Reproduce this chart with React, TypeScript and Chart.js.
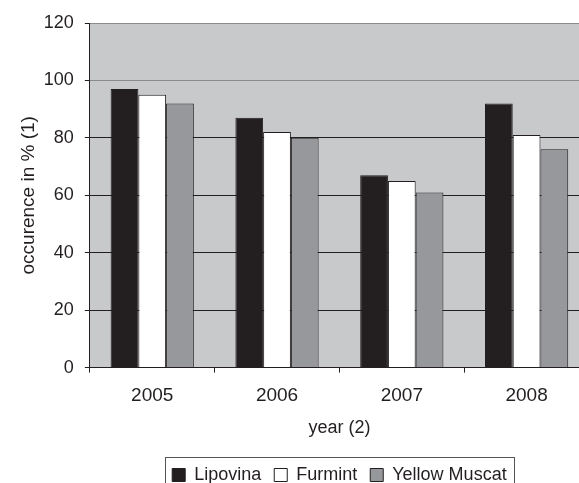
import React, { useEffect, useRef } from "react";
import { Chart, registerables } from "chart.js";

Chart.register(...registerables);

const years = ["2005", "2006", "2007", "2008"];
const lipovina = [97, 87, 67, 92];
const furmint = [95, 82, 65, 81];
const yellowMuscat = [92, 80, 61, 76];
const seriesNames = ["Lipovina", "Furmint", "Yellow Muscat"];
const yTicks = [0, 20, 40, 60, 80, 100, 120];

const DARK = "#231f20";
const FONT = "'Liberation Sans', Arial, sans-serif";

const bgPlugin = {
  id: "plotBg",
  beforeDraw(chart: any) {
    const { ctx, chartArea } = chart;
    ctx.save();
    ctx.fillStyle = "#c8c9cb";
    ctx.fillRect(chartArea.left, chartArea.top, chartArea.right - chartArea.left, chartArea.bottom - chartArea.top);
    ctx.restore();
  },
};

const legendBorderPlugin = {
  id: "legendBorder",
  afterDraw(chart: any) {
    const lg = chart.legend;
    if (!lg || !lg.legendHitBoxes || !lg.legendHitBoxes.length) return;
    const hb = lg.legendHitBoxes;
    const first = hb[0];
    const last = hb[hb.length - 1];
    const { ctx } = chart;
    ctx.save();
    ctx.strokeStyle = "#555";
    ctx.lineWidth = 1;
    const left = Math.round(first.left - 7) + 0.5;
    const right = Math.round(last.left + last.width + 7) + 0.5;
    const top = Math.round(first.top - 9) + 0.5;
    const bottom = Math.round(first.top + first.height + 12) + 0.5;
    ctx.strokeRect(left, top, right - left, bottom - top);
    ctx.restore();
  },
};

export default function App() {
  const ref = useRef<HTMLCanvasElement>(null);
  useEffect(() => {
    if (!ref.current) return;
    const chart = new Chart(ref.current, {
      type: "bar",
      data: {
        labels: years,
        datasets: [
          { label: seriesNames[0], data: lipovina, backgroundColor: DARK, borderColor: DARK, borderWidth: 1 },
          { label: seriesNames[1], data: furmint, backgroundColor: "#ffffff", borderColor: DARK, borderWidth: 1 },
          { label: seriesNames[2], data: yellowMuscat, backgroundColor: "#97989c", borderColor: DARK, borderWidth: 1 },
        ],
      },
      options: {
        responsive: false,
        animation: false,
        datasets: { bar: { barPercentage: 1, categoryPercentage: 0.667 } },
        layout: { padding: { top: 23, right: 11, bottom: 26, left: 0 } },
        plugins: {
          tooltip: { enabled: false },
          legend: {
            position: "bottom",
            fullSize: false,
            labels: {
              boxWidth: 13,
              boxHeight: 13,
              padding: 13,
              color: DARK,
              font: { family: FONT, size: 18 },
            },
          },
        },
        scales: {
          x: {
            grid: { display: true, drawOnChartArea: false, tickLength: 5, color: DARK, offset: true },
            border: { color: DARK, width: 1 },
            ticks: { color: DARK, padding: 12, font: { family: FONT, size: 19 } },
            title: {
              display: true,
              text: "year (2)",
              color: DARK,
              font: { family: FONT, size: 18 },
              padding: { top: -2, bottom: 14 },
            },
          },
          y: {
            min: 0,
            max: 120,
            afterBuildTicks: (axis: any) => {
              axis.ticks = yTicks.map((v) => ({ value: v }));
            },
            grid: {
              tickLength: 5,
              tickColor: DARK,
              color: (c: any) => (c.tick && c.tick.value >= 100 ? "#8a8b8d" : DARK),
            },
            border: { color: DARK, width: 1 },
            ticks: { color: DARK, padding: 11, font: { family: FONT, size: 18 } },
            title: {
              display: true,
              text: "occurence in % (1)",
              color: DARK,
              font: { family: FONT, size: 19 },
              padding: { top: 17, bottom: -7 },
            },
          },
        },
      },
      plugins: [bgPlugin, legendBorderPlugin],
    });
    return () => chart.destroy();
  }, []);
  return (
    <div style={{ position: "absolute", left: 0, top: 0, width: 579, height: 483, overflow: "hidden", background: "#fff" }}>
      <canvas ref={ref} width={600} height={520} />
    </div>
  );
}
